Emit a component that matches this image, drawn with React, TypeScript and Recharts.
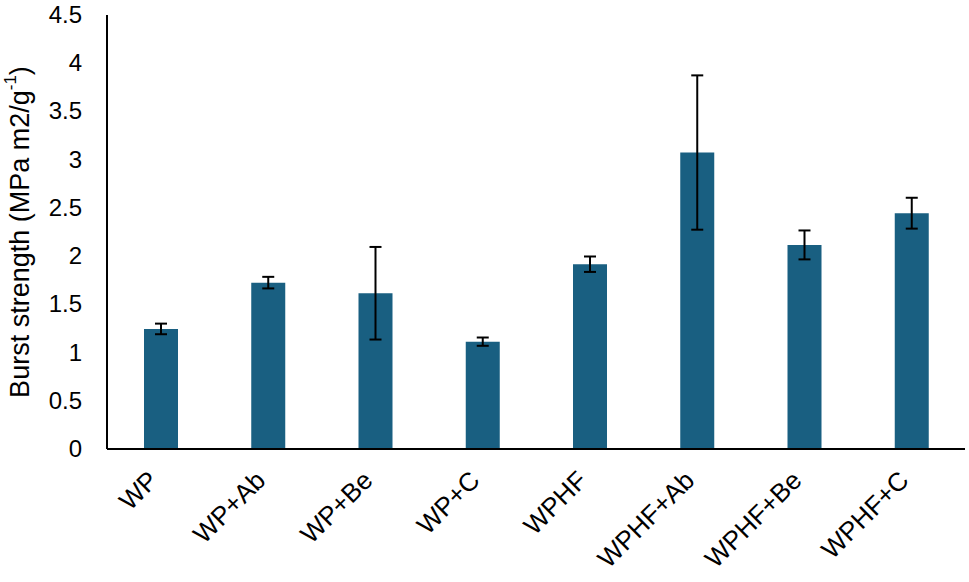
import { BarChart, Bar, XAxis, YAxis, ErrorBar, Label } from 'recharts'

const categories = ['WP', 'WP+Ab', 'WP+Be', 'WP+C', 'WPHF', 'WPHF+Ab', 'WPHF+Be', 'WPHF+C']
const burstStrength = [1.245, 1.725, 1.615, 1.113, 1.916, 3.074, 2.116, 2.445]
const stdDev = [0.055, 0.06, 0.48, 0.043, 0.08, 0.8, 0.15, 0.16]
const yTicks = [0, 0.5, 1, 1.5, 2, 2.5, 3, 3.5, 4, 4.5]

const data = categories.map((name, i) => ({ name, value: burstStrength[i], err: stdDev[i] }))

const FONT = '"Liberation Sans", Arial, sans-serif'
const BAR_COLOR = '#195f81'

const XTick = ({ x, y, payload }: any) => (
  <g transform={`translate(${x - 1},${y + 25})`}>
    <text x={0} y={0} textAnchor="end" transform="rotate(-45)" fontFamily={FONT} fontSize={26} fill="#000">
      {payload.value}
    </text>
  </g>
)

const YTick = ({ y, payload }: any) => (
  <text x={82} y={y} dy={8} textAnchor="end" fontFamily={FONT} fontSize={24} fill="#000">
    {payload.value}
  </text>
)

const YLabel = ({ viewBox }: any) => {
  const cx = 20
  const cy = viewBox.y + viewBox.height / 2
  return (
    <text
      x={cx}
      y={cy}
      transform={`rotate(-90, ${cx}, ${cy})`}
      textAnchor="middle"
      dominantBaseline="central"
      fontFamily={FONT}
      fontSize={27}
      fill="#000"
    >
      Burst strength (MPa m2/g<tspan dy={-10} fontSize={17}>-1</tspan>
      <tspan dy={10}>)</tspan>
    </text>
  )
}

export default function App() {
  return (
    <div style={{ position: 'absolute', left: 0, top: 0, background: '#fff' }}>
      <BarChart width={969} height={582} data={data} margin={{ top: 15, right: 4, left: 0, bottom: 0 }} barSize={34}>
        <XAxis
          dataKey="name"
          height={133}
          tickLine={false}
          axisLine={{ stroke: '#000', strokeWidth: 2 }}
          tick={<XTick />}
          interval={0}
        />
        <YAxis
          width={107}
          domain={[0, 4.5]}
          ticks={yTicks}
          tickLine={false}
          axisLine={{ stroke: '#000', strokeWidth: 2 }}
          tick={<YTick />}
          interval={0}
        >
          <Label content={<YLabel />} />
        </YAxis>
        <Bar dataKey="value" fill={BAR_COLOR} isAnimationActive={false}>
          <ErrorBar dataKey="err" direction="y" width={6} stroke="#000" strokeWidth={2} isAnimationActive={false} />
        </Bar>
      </BarChart>
    </div>
  )
}
